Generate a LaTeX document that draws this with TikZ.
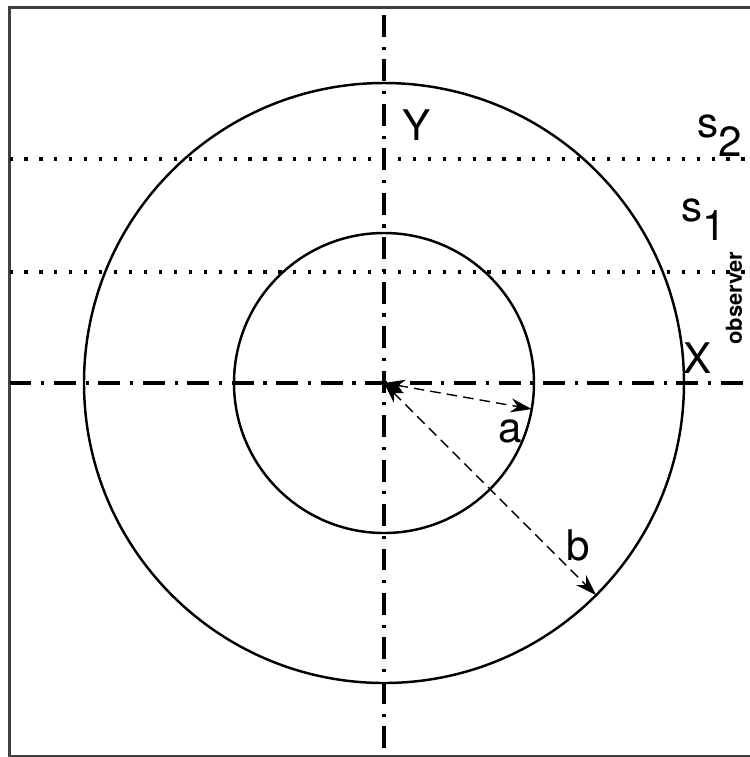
\documentclass[tikz,border=0pt]{standalone}
\usepackage{fontspec}
\setmainfont{TeX Gyre Heros}
\usetikzlibrary{arrows.meta,calc}
\tikzset{
  axis/.style={line width=2.1pt, dash pattern=on 12.5pt off 5.5pt on 1.8pt off 5.5pt},
  guide/.style={line width=2pt, dash pattern=on 1.8pt off 6.7pt},
  radius/.style={line width=0.8pt, dash pattern=on 6pt off 3.5pt, {Stealth[length=12pt,width=8pt]}-{Stealth[length=12pt,width=8pt]}},
  lbl/.style={inner sep=0pt, font=\fontsize{24}{24}\selectfont}
}
\begin{document}
\begin{tikzpicture}
                \useasboundingbox (0,0) rectangle (15,-15.14);
                % Frame
                \draw[line width=1.2pt, black!75] (15.4,-0.15) -- (0.19,-0.15) -- (0.19,-15.12) -- (15.4,-15.12);
                % Nodes
                \coordinate (O) at (7.68,-7.66);
                \coordinate (A) at ($(O)+(-10:3)$);
                \coordinate (B) at ($(O)+(-45:6)$);
                \node[lbl] (Y) at (8.34,-2.50) {Y};
                \node[lbl] (X) at (13.96,-7.16) {X};
                \node[lbl] (s2) at (14.40,-2.72) {s\raisebox{-0.45em}{2}};
                \node[lbl] (s1) at (14.07,-4.40) {s\raisebox{-0.45em}{1}};
                \node[inner sep=0pt, rotate=90, font=\fontsize{12.5}{12.5}\selectfont\bfseries] (obs) at (14.68,-5.96) {observer};
                \node[lbl] (a) at (10.20,-8.62) {a};
                \node[lbl] (b) at (11.56,-10.90) {b};
                % Circles
                \draw[line width=1.4pt] (O) circle (3);
                \draw[line width=1.4pt] (O) circle (6);
                % Axes
                \draw[axis] (7.68,-0.30) -- (7.68,-15.12);
                \draw[axis] (0.19,-7.66) -- (15,-7.66);
                \draw[guide] (0.19,-3.18) -- (15,-3.18);
                \draw[guide] (0.19,-5.44) -- (15,-5.44);
                % Edges
                \draw[radius] (O) -- (A);
                \draw[radius] (O) -- (B);
            \end{tikzpicture}
\end{document}
